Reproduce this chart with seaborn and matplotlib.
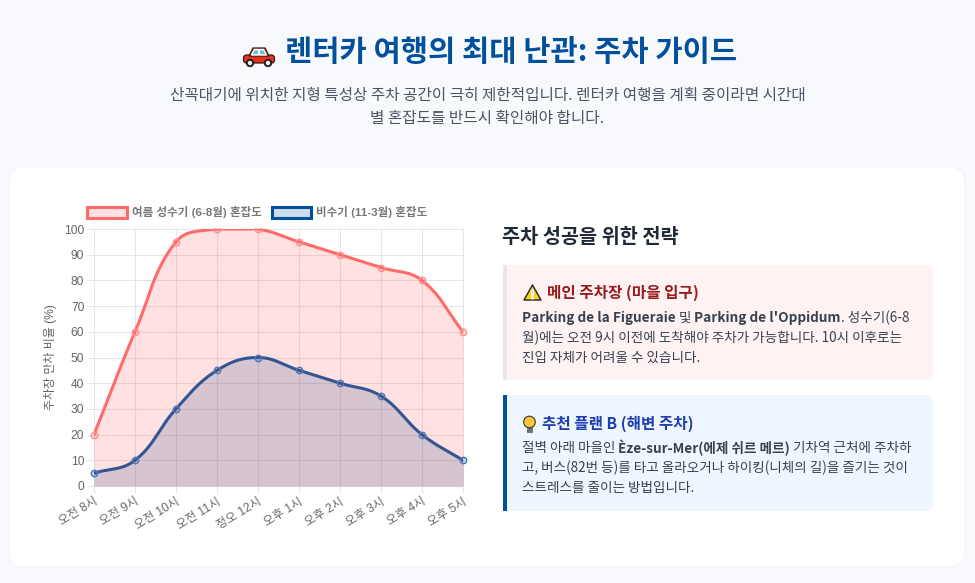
# plot.py - 렌터카 주차 가이드 recreation

import numpy as np
import matplotlib
matplotlib.use("Agg")
import matplotlib.pyplot as plt
import seaborn as sns
from matplotlib.patches import FancyBboxPatch, Rectangle, Polygon, Circle, Patch

hours = ["오전 8시", "오전 9시", "오전 10시", "오전 11시", "정오 12시",
         "오후 1시", "오후 2시", "오후 3시", "오후 4시", "오후 5시"]
summer = [20, 60, 95, 100, 100, 95, 90, 85, 80, 60]
winter = [5, 10, 30, 45, 50, 45, 40, 35, 20, 10]
y_ticks = [0, 10, 20, 30, 40, 50, 60, 70, 80, 90, 100]

summer_label = "여름 성수기 (6-8월) 혼잡도"
winter_label = "비수기 (11-3월) 혼잡도"
y_label = "주차장 만차 비율 (%)"

title = "렌터카 여행의 최대 난관: 주차 가이드"
subtitle = ["산꼭대기에 위치한 지형 특성상 주차 공간이 극히 제한적입니다. 렌터카 여행을 계획 중이라면 시간대",
            "별 혼잡도를 반드시 확인해야 합니다."]
side_title = "주차 성공을 위한 전략"
box1_title = "메인 주차장 (마을 입구)"
box1_lines = [[("Parking de la Figueraie", True), (" 및 ", False), ("Parking de l'Oppidum", True), (". 성수기(6-8", False)],
              [("월)에는 오전 9시 이전에 도착해야 주차가 가능합니다. 10시 이후로는", False)],
              [("진입 자체가 어려울 수 있습니다.", False)]]
box2_title = "추천 플랜 B (해변 주차)"
box2_lines = [[("절벽 아래 마을인 ", False), ("Èze-sur-Mer(에제 쉬르 메르)", True), (" 기차역 근처에 주차하", False)],
              [("고, 버스(82번 등)를 타고 올라오거나 하이킹(니체의 길)을 즐기는 것이", False)],
              [("스트레스를 줄이는 방법입니다.", False)]]

W, H = 975, 583
RED = "#ff6b6b"
BLUE = "#00509d"
KR = ["Noto Sans CJK KR", "DejaVu Sans"]
CHART = ["Liberation Sans", "Noto Sans CJK KR"]


def px(size):
    return size * 0.72


def spline(xs, ys, x_scale, y_scale, tension=0.4, steps=30):
    # same bezier rule the original chart uses, capped to the axis range
    x = np.array(xs, float)
    y = np.array(ys, float)
    out_x, out_y = [], []
    n = len(x)
    cp_prev = np.zeros((n, 2))
    cp_next = np.zeros((n, 2))
    for i in range(n):
        a = max(i - 1, 0)
        b = min(i + 1, n - 1)
        d01 = np.hypot((x[i] - x[a]) * x_scale, (y[i] - y[a]) * y_scale)
        d12 = np.hypot((x[b] - x[i]) * x_scale, (y[b] - y[i]) * y_scale)
        s01 = d01 / (d01 + d12)
        s12 = d12 / (d01 + d12)
        cp_prev[i] = [x[i] - tension * s01 * (x[b] - x[a]), y[i] - tension * s01 * (y[b] - y[a])]
        cp_next[i] = [x[i] + tension * s12 * (x[b] - x[a]), y[i] + tension * s12 * (y[b] - y[a])]
    cp_prev[:, 1] = np.clip(cp_prev[:, 1], 0, 100)
    cp_next[:, 1] = np.clip(cp_next[:, 1], 0, 100)
    t = np.linspace(0, 1, steps)
    for i in range(n - 1):
        p0 = np.array([x[i], y[i]])
        p3 = np.array([x[i + 1], y[i + 1]])
        p1, p2 = cp_next[i], cp_prev[i + 1]
        for u in t:
            q = (1 - u) ** 3 * p0 + 3 * (1 - u) ** 2 * u * p1 + 3 * (1 - u) * u ** 2 * p2 + u ** 3 * p3
            out_x.append(q[0])
            out_y.append(q[1])
    return np.array(out_x), np.array(out_y)


def draw_runs(canvas, x, y, runs, size, color):
    # mixed regular / bold text on one line
    renderer = fig.canvas.get_renderer()
    for text, bold in runs:
        t = canvas.text(x, y, text, fontsize=px(size), color=color, family=KR,
                        fontweight="bold" if bold else "normal", va="center", ha="left")
        x += t.get_window_extent(renderer).width


def draw_car(canvas, cx, cy):
    canvas.add_patch(FancyBboxPatch((cx - 15.5, cy - 1), 31, 8, boxstyle="round,pad=0,rounding_size=3",
                                    fc="#e8321f", ec="#3a1a14", lw=0.9))
    canvas.add_patch(Polygon([[cx - 10, cy], [cx - 6, cy - 8], [cx + 6, cy - 8], [cx + 10, cy]],
                             fc="#e8321f", ec="#3a1a14", lw=0.9))
    canvas.add_patch(Polygon([[cx - 7.5, cy - 1], [cx - 4.5, cy - 6.5], [cx - 0.5, cy - 6.5], [cx - 0.5, cy - 1]], fc="#5cc3ee"))
    canvas.add_patch(Polygon([[cx + 7.5, cy - 1], [cx + 4.5, cy - 6.5], [cx + 0.5, cy - 6.5], [cx + 0.5, cy - 1]], fc="#5cc3ee"))
    for dx in (-9, 9):
        canvas.add_patch(Circle((cx + dx, cy + 7), 3.8, fc="#2b2b2b", ec="#111111", lw=0.5))
        canvas.add_patch(Circle((cx + dx, cy + 7), 1.4, fc="#c9c9c9"))


def draw_warning(canvas, cx, cy):
    canvas.add_patch(Polygon([[cx, cy - 8], [cx + 8.5, cy + 7], [cx - 8.5, cy + 7]], closed=True,
                             fc="#fcd116", ec="#222222", lw=1.0, joinstyle="round"))
    canvas.add_patch(Polygon([[cx - 1, cy - 3], [cx + 1, cy - 3], [cx + 0.5, cy + 3], [cx - 0.5, cy + 3]], fc="#222222"))
    canvas.add_patch(Circle((cx, cy + 5), 0.9, fc="#222222"))


def draw_bulb(canvas, cx, cy):
    canvas.add_patch(Rectangle((cx - 2.5, cy + 3), 5, 5, fc="#6b7280", ec="#444444", lw=0.4))
    canvas.add_patch(Circle((cx, cy - 2), 5.8, fc="#fcc63d", ec="#333333", lw=0.8))


sns.set_theme(style="whitegrid")
plt.rcParams["font.family"] = KR
plt.rcParams["axes.unicode_minus"] = False

fig = plt.figure(figsize=(W / 100, H / 100), dpi=100, facecolor="#f8f9fd")

# page layer in pixel coordinates
page = fig.add_axes([0, 0, 1, 1], zorder=0)
page.set_xlim(0, W)
page.set_ylim(H, 0)
page.axis("off")

page.add_patch(FancyBboxPatch((9, 167), 956, 400, boxstyle="round,pad=0,rounding_size=16",
                              fc="white", ec="#f5f6fa", lw=1))

draw_car(page, 259, 56)
page.text(511.5, 52.5, title, fontsize=px(29.6), fontweight="bold", color=BLUE, ha="center", va="center", family=KR)
page.text(487.5, 95.5, subtitle[0], fontsize=px(15.65), color="#4b5563", ha="center", va="center", family=KR)
page.text(487.5, 118.5, subtitle[1], fontsize=px(15.65), color="#4b5563", ha="center", va="center", family=KR)

page.text(502, 237, side_title, fontsize=px(19.7), fontweight="bold", color="#1f2937", va="center", family=KR)

# first note
page.add_patch(FancyBboxPatch((503, 265), 430, 115, boxstyle="round,pad=0,rounding_size=7", fc="#fef2f2", ec="none"))
page.add_patch(Rectangle((503, 265), 4, 115, fc="#e5e7eb", ec="none"))
draw_warning(page, 532.5, 293)
page.text(547, 293, box1_title, fontsize=px(15.6), fontweight="bold", color="#991b1b", va="center", family=KR)
for i, runs in enumerate(box1_lines):
    draw_runs(page, 522, 318 + i * 19.8, runs, 13.55, "#374151")

# second note
page.add_patch(FancyBboxPatch((503, 395), 430, 116, boxstyle="round,pad=0,rounding_size=7", fc="#eff6ff", ec="none"))
page.add_patch(Rectangle((503, 395), 4, 116, fc=BLUE, ec="none"))
draw_bulb(page, 529.5, 424)
page.text(542, 424, box2_title, fontsize=px(15.6), fontweight="bold", color="#1e40af", va="center", family=KR)
for i, runs in enumerate(box2_lines):
    draw_runs(page, 522, 448 + i * 19.8, runs, 13.55, "#374151")

# chart
left, right, top, bottom = 94, 463, 229, 486
ax = fig.add_axes([left / W, 1 - bottom / H, (right - left) / W, (bottom - top) / H], zorder=2)
ax.patch.set_alpha(0)

pos = np.arange(len(hours))
x_scale = (right - left) / (len(hours) - 1)
y_scale = (bottom - top) / 100

# winter goes first so the summer fill tints it, like the original
z = 3
for values, line_col, fill_col, point_col in [
    (winter, BLUE, (0, 80 / 255, 157 / 255, 0.2), "#2f78c4"),
    (summer, RED, (1, 107 / 255, 107 / 255, 0.2), "#ff8f8f"),
]:
    cx, cy = spline(pos, values, x_scale, y_scale)
    ax.fill_between(cx, 0, cy, color=fill_col, lw=0, zorder=z)
    sns.lineplot(x=cx, y=cy, sort=False, estimator=None, color=line_col, linewidth=2.2, ax=ax, zorder=z + 1)
    sns.lineplot(x=pos, y=values, sort=False, estimator=None, linestyle="", marker="o", markersize=4.6,
                 markerfacecolor=fill_col, markeredgecolor=point_col, markeredgewidth=1.0, ax=ax, zorder=z + 2)
    # points may hang over the sides but not over the top
    ax.lines[-1].set_clip_path(Rectangle((-0.05, -0.05), 1.1, 1.055, transform=ax.transAxes))
    z += 3

ax.set_xlim(0, len(hours) - 1)
ax.set_ylim(0, 100)
ax.set_xticks(pos)
ax.set_yticks(y_ticks)
ax.set_xticklabels(hours, rotation=31, ha="right", rotation_mode="anchor", family=CHART, fontsize=px(12), color="#666666")
ax.set_yticklabels([str(v) for v in y_ticks], family=CHART, fontsize=px(12), color="#666666")
ax.set_xlabel("")
ax.set_ylabel(y_label, family=CHART, fontsize=px(12), color="#666666", labelpad=5)
ax.grid(True, color="#e5e5e5", linewidth=0.75)
ax.set_axisbelow(True)
ax.tick_params(axis="both", length=5, width=0.75, color="#e5e5e5", pad=2, left=True, bottom=True)
for spine in ax.spines.values():
    spine.set_color("#e5e5e5")
    spine.set_linewidth(0.75)

handles = [
    Patch(facecolor=(1, 107 / 255, 107 / 255, 0.2), edgecolor=RED, linewidth=2.2, label=summer_label),
    Patch(facecolor=(0, 80 / 255, 157 / 255, 0.2), edgecolor=BLUE, linewidth=2.2, label=winter_label),
]
leg = fig.legend(handles=handles, loc="center left", bbox_to_anchor=(77 / W, 1 - 212 / H), ncol=2, frameon=False,
                 handlelength=3.45, handleheight=1.1, handletextpad=0.42, columnspacing=0.85,
                 prop={"family": CHART, "size": px(11.5), "weight": "bold"}, labelcolor="#777777")

fig.savefig("out.png", dpi=100, facecolor=fig.get_facecolor())
